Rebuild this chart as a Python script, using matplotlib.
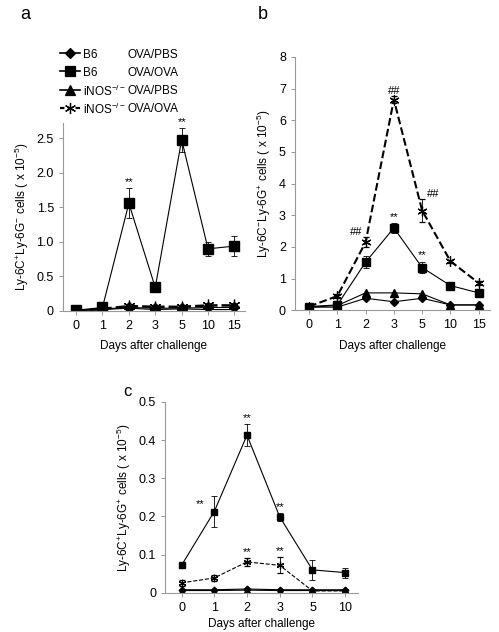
import matplotlib
matplotlib.use("Agg")
from matplotlib import pyplot as plt
from matplotlib.lines import Line2D

plt.rcParams['font.family'] = ['Liberation Sans', 'DejaVu Sans']
plt.rcParams['mathtext.fontset'] = 'custom'
plt.rcParams['mathtext.rm'] = 'Liberation Sans'
plt.rcParams['mathtext.it'] = 'Liberation Sans:italic'
plt.rcParams['mathtext.bf'] = 'Liberation Sans:bold'

# ---- data ----
days_ab = ["0", "1", "2", "3", "5", "10", "15"]
days_c = ["0", "1", "2", "3", "5", "10"]
genotypes = ["B6", "B6", r"iNOS$^{-/-}$", r"iNOS$^{-/-}$"]
treatments = ["OVA/PBS", "OVA/OVA", "OVA/PBS", "OVA/OVA"]

# panel a: Ly-6C+Ly-6G- cells (x 10^-5)
a_b6_pbs = [0.01, 0.03, 0.05, 0.04, 0.04, 0.05, 0.05]
a_b6_ova = [0.01, 0.05, 1.56, 0.34, 2.48, 0.90, 0.94]
a_b6_ova_err = [0.01, 0.02, 0.22, 0.03, 0.17, 0.10, 0.14]
a_ko_pbs = [0.00, 0.02, 0.04, 0.02, 0.03, 0.02, 0.02]
a_ko_ova = [0.00, 0.03, 0.07, 0.06, 0.06, 0.08, 0.08]
a_ko_ova_err = [0.00, 0.01, 0.02, 0.02, 0.02, 0.02, 0.02]

# panel b: Ly-6C-Ly-6G+ cells
b_b6_pbs = [0.10, 0.10, 0.38, 0.27, 0.38, 0.17, 0.17]
b_b6_ova = [0.12, 0.17, 1.52, 2.60, 1.35, 0.78, 0.55]
b_b6_ova_err = [0.02, 0.03, 0.20, 0.15, 0.18, 0.05, 0.04]
b_ko_pbs = [0.10, 0.15, 0.55, 0.55, 0.52, 0.17, 0.17]
b_ko_ova = [0.12, 0.45, 2.15, 6.65, 3.15, 1.55, 0.86]
b_ko_ova_err = [0.02, 0.05, 0.15, 0.10, 0.35, 0.05, 0.07]

# panel c: Ly-6C+Ly-6G+ cells
c_b6_pbs = [0.008, 0.008, 0.010, 0.008, 0.008, 0.008]
c_b6_ova = [0.072, 0.213, 0.413, 0.199, 0.060, 0.053]
c_b6_ova_err = [0.006, 0.040, 0.028, 0.010, 0.026, 0.013]
c_ko_pbs = [0.006, 0.006, 0.007, 0.006, 0.006, 0.006]
c_ko_ova = [0.026, 0.039, 0.081, 0.072, 0.005, 0.005]
c_ko_ova_err = [0.008, 0.007, 0.010, 0.021, 0.002, 0.002]

star6 = (6, 2, 0)
markers = ["D", "s", "^", star6]
TICK = 9
STAR = 8


def panel(ax, days, pbs, ova, ova_err, kpbs, kova, kova_err, ms, lw_dash):
    x = list(range(len(days)))
    ax.plot(x, pbs, color="black", lw=0.8, marker="D", ms=ms * 0.75)
    ax.errorbar(x, ova, yerr=ova_err, color="black", lw=0.8, marker="s",
                ms=ms, capsize=2.5, elinewidth=0.6, capthick=0.6)
    ax.plot(x, kpbs, color="black", lw=0.8, marker="^", ms=ms * 0.85)
    ax.errorbar(x, kova, yerr=kova_err, color="black", lw=lw_dash, ls="--",
                marker=star6, ms=ms * 1.2, mew=0.9, capsize=2.5,
                elinewidth=0.6, capthick=0.6)
    ax.set_xticks(x)
    ax.set_xticklabels(days)
    ax.set_xlim(-0.5, len(days) - 0.6)
    for s in ["top", "right"]:
        ax.spines[s].set_visible(False)
    for s in ["left", "bottom"]:
        ax.spines[s].set_color("#999999")
        ax.spines[s].set_linewidth(0.8)
    ax.tick_params(colors="#999999", labelcolor="black", labelsize=TICK,
                   length=3, width=0.7)
    ax.set_xlabel("Days after challenge", fontsize=8.5, labelpad=6)


def stars(ax, x, y, text, dx=0, dy=1):
    ax.annotate(text, (x, y), xytext=(dx, dy), textcoords="offset points",
                ha="center", va="bottom", fontsize=STAR)


fig = plt.figure(figsize=(4.99, 6.32), dpi=100)

# panel a
ax_a = fig.add_axes([0.126, 0.508, 0.365, 0.297])
panel(ax_a, days_ab, a_b6_pbs, a_b6_ova, a_b6_ova_err, a_ko_pbs, a_ko_ova,
      a_ko_ova_err, 7, 1.8)
ax_a.set_ylim(0, 2.72)
ax_a.set_yticks([0, 0.5, 1.0, 1.5, 2.0, 2.5])
ax_a.set_yticklabels(["0", "0.5", "1.0", "1.5", "2.0", "2.5"])
ax_a.set_ylabel(r"Ly-6C$^{+}$Ly-6G$^{-}$ cells ( x 10$^{-5}$)", fontsize=8.5)
for i in [2, 4]:
    stars(ax_a, i, a_b6_ova[i] + a_b6_ova_err[i], "**")

# legend (genotype / treatment columns)
for k in range(4):
    y = 1 - (53 + k * 18.3) / 632
    ls = "--" if k == 3 else "-"
    lw = 1.6 if k == 3 else 1.2
    fig.add_artist(Line2D([60 / 499, 80 / 499], [y, y], color="black", lw=lw,
                          ls=ls, dashes=(2, 1.5) if k == 3 else (None, None),
                          transform=fig.transFigure))
    ms = [5.5, 6.5, 6.5, 8][k]
    fig.add_artist(Line2D([70 / 499], [y], color="black", marker=markers[k],
                          ms=ms, mew=0.9, transform=fig.transFigure))
    fig.text(83 / 499, y, genotypes[k], fontsize=8.5, va="center_baseline")
    fig.text(128 / 499, y, treatments[k], fontsize=8.5, va="center_baseline")

# panel b
ax_b = fig.add_axes([0.591, 0.509, 0.391, 0.401])
panel(ax_b, days_ab, b_b6_pbs, b_b6_ova, b_b6_ova_err, b_ko_pbs, b_ko_ova,
      b_ko_ova_err, 6, 1.5)
ax_b.set_ylim(0, 8)
ax_b.set_yticks(range(9))
ax_b.set_ylabel(r"Ly-6C$^{-}$Ly-6G$^{+}$ cells ( x 10$^{-5}$)", fontsize=8.5)
for i in [3, 4]:
    stars(ax_b, i, b_b6_ova[i] + b_b6_ova_err[i], "**")
for i, dx in [(2, -7), (3, 0), (4, 8)]:
    stars(ax_b, i, b_ko_ova[i] + b_ko_ova_err[i], "##", dx=dx, dy=0)

# panel c
ax_c = fig.add_axes([0.331, 0.062, 0.387, 0.302])
panel(ax_c, days_c, c_b6_pbs, c_b6_ova, c_b6_ova_err, c_ko_pbs, c_ko_ova,
      c_ko_ova_err, 4.5, 0.8)
ax_c.set_ylim(0, 0.5)
ax_c.set_yticks([0, 0.1, 0.2, 0.3, 0.4, 0.5])
ax_c.set_yticklabels(["0", "0.1", "0.2", "0.3", "0.4", "0.5"])
ax_c.set_ylabel(r"Ly-6C$^{+}$Ly-6G$^{+}$ cells ( x 10$^{-5}$)", fontsize=8.5)
ax_c.set_xlabel("Days after challenge", fontsize=8.5, labelpad=3)
stars(ax_c, 1, c_b6_ova[1], "**", dx=-10, dy=2)
for i in [2, 3]:
    stars(ax_c, i, c_b6_ova[i] + c_b6_ova_err[i], "**")
    stars(ax_c, i, c_ko_ova[i] + c_ko_ova_err[i], "**")

# panel letters
fig.text(0.040, 0.99, "a", fontsize=13, va="top")
fig.text(0.516, 0.99, "b", fontsize=13, va="top")
fig.text(0.246, 0.392, "c", fontsize=12, va="top")

fig.savefig("out.png", dpi=100)
